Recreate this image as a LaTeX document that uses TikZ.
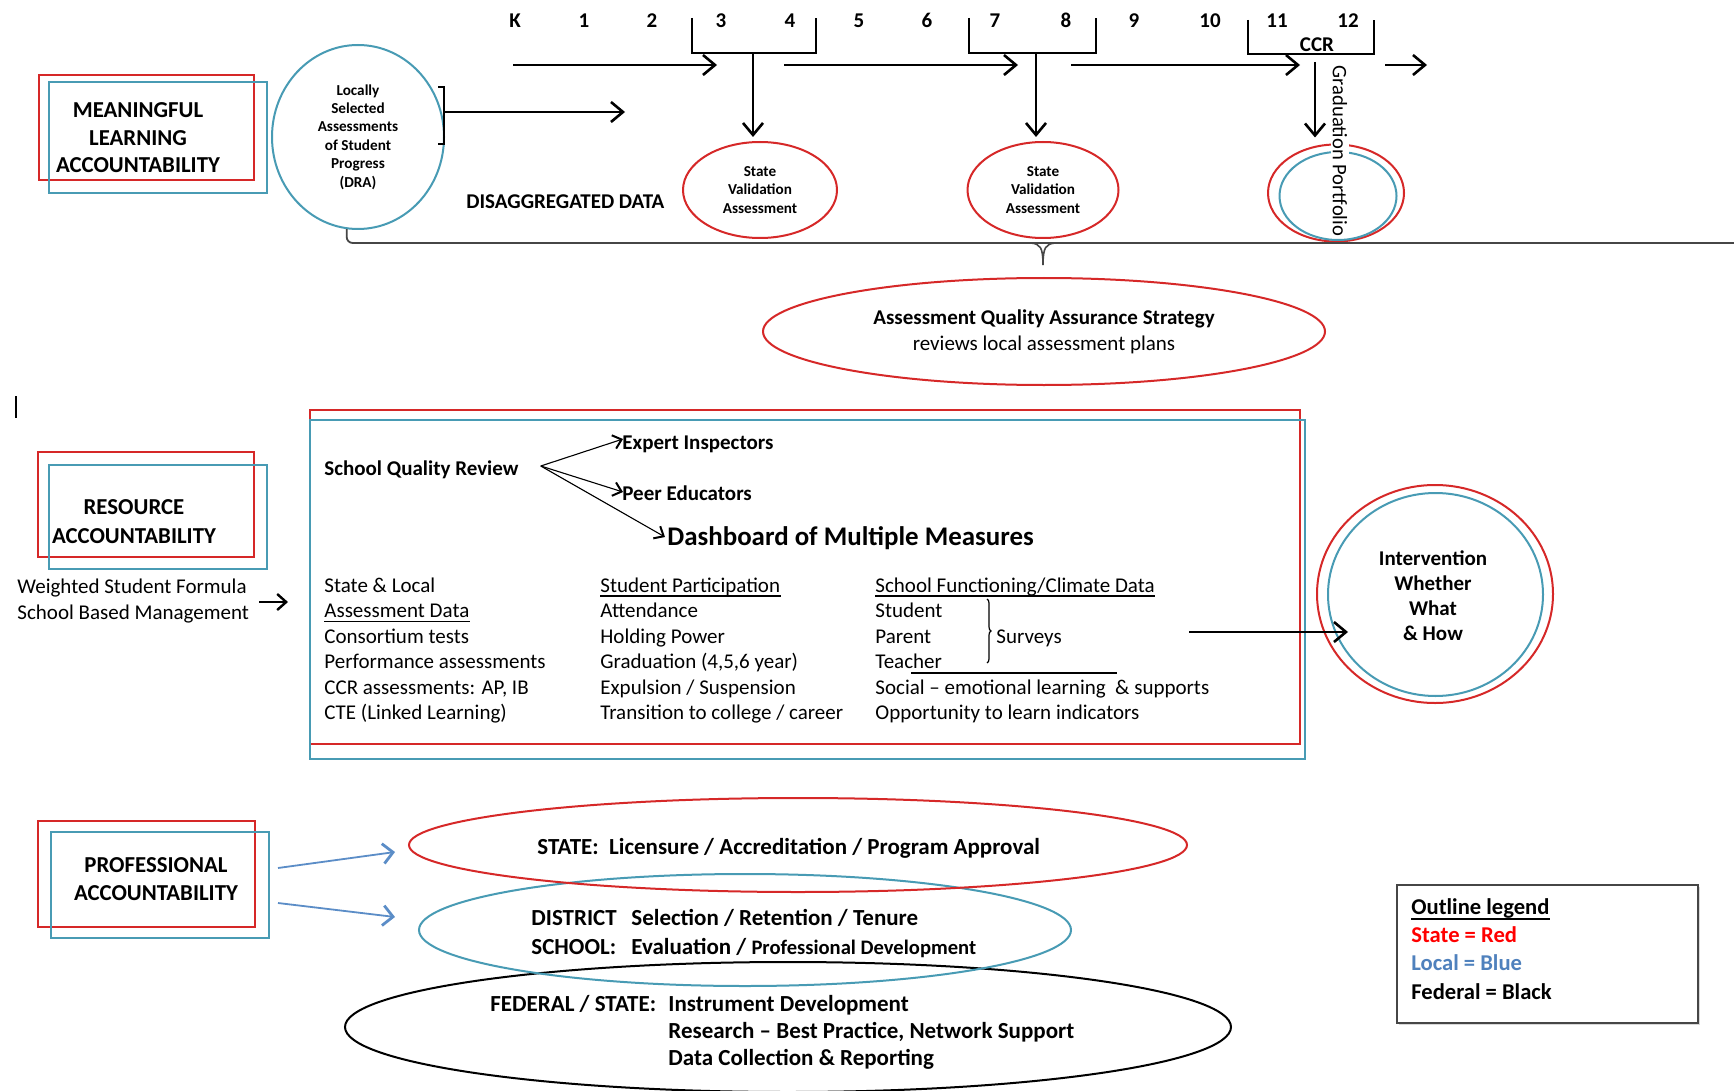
\documentclass[tikz,border=0pt]{standalone}
\usepackage{fontspec}
\setmainfont{Carlito}
\usetikzlibrary{arrows.meta,shapes.geometric,calc,decorations.pathreplacing,shadows}
\definecolor{ored}{RGB}{214,40,40}
\definecolor{oblue}{RGB}{72,155,180}
\definecolor{lred}{RGB}{255,0,0}
\definecolor{lblue}{RGB}{79,129,189}
\definecolor{ablue}{RGB}{91,141,199}
\definecolor{dgray}{RGB}{70,70,70}
\begin{document}
\begin{tikzpicture}[x=0.5pt,y=-0.5pt,
  redbox/.style={draw=ored,line width=1pt,inner sep=0pt},
  bluebox/.style={draw=oblue,line width=1pt,inner sep=0pt},
  redell/.style={ellipse,draw=ored,line width=1pt,inner sep=0pt},
  blueell/.style={ellipse,draw=oblue,line width=1pt,inner sep=0pt},
  blkell/.style={ellipse,draw=black,line width=1pt,inner sep=0pt},
  arr/.style={line width=0.8pt,-{Straight Barb[length=6pt,width=10pt,line width=1.3pt]}},
  sarr/.style={line width=0.8pt,-{Straight Barb[length=4.5pt,width=8pt,line width=1.2pt]}},
  thinarr/.style={line width=0.55pt,-{Straight Barb[length=4pt,width=7pt,line width=1pt]}},
  bluearr/.style={draw=ablue,line width=0.9pt,-{Straight Barb[length=5pt,width=10pt,line width=1.4pt]}},
  thinline/.style={line width=0.6pt},
  uline/.style={line width=0.65pt},
  grade/.style={font=\fontsize{10.5}{12}\selectfont\bfseries,anchor=base,inner sep=0pt},
  body/.style={font=\fontsize{10.5}{12}\selectfont,anchor=base west,inner sep=0pt},
  bodyb/.style={font=\fontsize{10.5}{12}\selectfont\bfseries,anchor=base west,inner sep=0pt},
  bigt/.style={align=center,inner sep=0pt},
  smallt/.style={font=\fontsize{7.6}{9.2}\selectfont\bfseries,align=center},
  prof/.style={font=\fontsize{11.5}{13}\selectfont\bfseries,anchor=base west,inner sep=0pt},
  legt/.style={font=\fontsize{11.3}{13}\selectfont\bfseries,anchor=base west,inner sep=0pt},
]
\useasboundingbox[fill=white] (0,0) rectangle (1734,1091);

% ---------------- MEANINGFUL LEARNING ----------------
\node[redbox,minimum width=107.5pt,minimum height=52.5pt] (mlr) at (146.5,127.5) {};
\node[bluebox,minimum width=109pt,minimum height=55.5pt] (mlb) at (158,137.5) {};
\node[bigt,font=\fontsize{11.4}{13.75}\selectfont\bfseries] (mlt) at (138,138) {MEANINGFUL\\LEARNING\\ACCOUNTABILITY};

\node[blueell,minimum width=86pt,minimum height=92pt,smallt] (dra) at (358,137) {Locally\\Selected\\Assessments\\of Student\\Progress\\(DRA)};
\draw[thinline] (438,87) -- (444,87) -- (444,144) -- (438,144);
\coordinate (lsa) at (444,112);
\coordinate (lsb) at (625,112);
\draw[arr] (lsa) -- (lsb);

\node[bodyb] (dis) at (466,209) {DISAGGREGATED DATA};

% grades
\node[grade] (gK) at (515,28) {K};
\node[grade] (g1) at (584,28) {1};
\node[grade] (g2) at (652,28) {2};
\node[grade] (g3) at (721,28) {3};
\node[grade] (g4) at (790,28) {4};
\node[grade] (g5) at (859,28) {5};
\node[grade] (g6) at (927,28) {6};
\node[grade] (g7) at (995,28) {7};
\node[grade] (g8) at (1066,28) {8};
\node[grade] (g9) at (1134,28) {9};
\node[grade] (g10) at (1210,28) {10};
\node[grade] (g11) at (1277,28) {11};
\node[grade] (g12) at (1348,28) {12};
\node[grade] (ccr) at (1317,52) {CCR};

\draw[thinline] (692,18) -- (692,53) -- (816,53) -- (816,18);
\draw[thinline] (969,18) -- (969,53) -- (1096,53) -- (1096,18);
\draw[thinline] (1248,20) -- (1248,54) -- (1374,54) -- (1374,20);

\coordinate (t1a) at (513,65); \coordinate (t1b) at (717,65);
\coordinate (t2a) at (784,65); \coordinate (t2b) at (1018,65);
\coordinate (t3a) at (1071,65); \coordinate (t3b) at (1300,65);
\coordinate (t4a) at (1385,65); \coordinate (t4b) at (1427,65);
\draw[arr] (t1a) -- (t1b);
\draw[arr] (t2a) -- (t2b);
\draw[arr] (t3a) -- (t3b);
\draw[arr] (t4a) -- (t4b);

\node[redell,minimum width=77pt,minimum height=48pt,smallt] (sva1) at (760,190) {State\\Validation\\Assessment};
\node[redell,minimum width=75.5pt,minimum height=48pt,smallt] (sva2) at (1043,190) {State\\Validation\\Assessment};

\node[redell,minimum width=68pt,minimum height=48.5pt] (gpr) at (1336,193) {};
\node[blueell,minimum width=58.5pt,minimum height=44pt] (gpb) at (1338,196) {};
\node[font=\fontsize{10.3}{12}\selectfont,rotate=-90,fill=white,inner sep=1pt] (gpt) at (1340,151) {Graduation Portfolio};

\coordinate (b1) at (753,53);
\coordinate (b2) at (1036,53);
\coordinate (b3) at (1315,62);
\draw[arr,shorten >=2pt] (b1) -- (b1 |- sva1.north);
\draw[arr,shorten >=2pt] (b2) -- (b2 |- sva2.north);
\draw[arr,shorten >=3pt] (b3) -- (b3 |- gpr.north);

\coordinate (lineR) at (1734,243);
\draw[dgray,line width=0.9pt,rounded corners=3pt] (dra.263) -- (dra.263 |- lineR) -- (lineR);
\draw[dgray,line width=0.8pt] (1031,243) .. controls (1040,244) and (1043,247) .. (1043,265);
\draw[dgray,line width=0.8pt] (1055,243) .. controls (1046,244) and (1043,247) .. (1043,265);

\node[redell,minimum width=281pt,minimum height=53.5pt,font=\fontsize{10.5}{13}\selectfont,align=center] (aqa) at (1044,331.5) {\textbf{Assessment Quality Assurance Strategy}\\reviews local assessment plans};

\draw[thinline] (16,396) -- (16,418);

% ---------------- RESOURCE ----------------
\node[redbox,minimum width=108pt,minimum height=52.5pt] (rar) at (146,504.5) {};
\node[bluebox,minimum width=109pt,minimum height=52pt] (rab) at (158,517) {};
\node[bigt,font=\fontsize{11.4}{14.5}\selectfont\bfseries] (rat) at (134,522) {RESOURCE\\ACCOUNTABILITY};

\node[body] (wsf) at (17,593) {Weighted Student Formula};
\node[body] (sbm) at (17,619) {School Based Management};
\coordinate (wa) at (259,602); \coordinate (wb) at (288,602);
\draw[sarr] (wa) -- (wb);

\node[redbox,minimum width=495pt,minimum height=167pt] (dbr) at (805,577) {};
\node[bluebox,minimum width=497.5pt,minimum height=169.5pt] (dbb) at (807.5,589.5) {};

\node[bodyb] (sqr) at (324,475) {School Quality Review};
\node[bodyb] (ei) at (622,449) {Expert Inspectors};
\node[bodyb] (pe) at (622,500) {Peer Educators};
\node[bodyb,font=\fontsize{13.45}{15}\selectfont\bfseries] (dash) at (667,545) {Dashboard of Multiple Measures};
\coordinate (sqo) at ($(sqr.base east)+(22,-9)$);
\draw[thinarr] (sqo) -- ($(ei.base west)+(1,-10)$);
\draw[thinarr] (sqo) -- ($(pe.base west)+(1,-8)$);
\draw[thinarr] (sqo) -- ($(dash.base west)+(-2,-8)$);

% column 1
\node[body] (c1a) at (324,592) {State \& Local};
\node[body] (c1b) at (324,617.5) {Assessment Data};
\node[body] (c1c) at (324,643) {Consortium tests};
\node[body] (c1d) at (324,668.5) {Performance assessments};
\node[body] (c1e) at (324,694) {CCR assessments: AP, IB};
\node[body] (c1f) at (324,719.5) {CTE (Linked Learning)};
\draw[uline] ($(c1b.base west)+(0,4)$) -- ($(c1b.base east)+(0,4)$);
% column 2
\node[body] (c2a) at (600,592) {Student Participation};
\node[body] (c2b) at (600,617.5) {Attendance};
\node[body] (c2c) at (600,643) {Holding Power};
\node[body] (c2d) at (600,668.5) {Graduation (4,5,6 year)};
\node[body] (c2e) at (600,694) {Expulsion / Suspension};
\node[body] (c2f) at (600,719.5) {Transition to college / career};
\draw[uline] ($(c2a.base west)+(0,4)$) -- ($(c2a.base east)+(0,4)$);
% column 3
\node[body] (c3a) at (875,592) {School Functioning/Climate Data};
\node[body] (c3b) at (875,617.5) {Student};
\node[body] (c3c) at (875,643) {Parent};
\node[body] (c3d) at (875,668.5) {Teacher};
\node[body] (c3e) at (875,694) {Social – emotional learning~ \& supports};
\node[body] (c3f) at (875,719.5) {Opportunity to learn indicators};
\draw[uline] ($(c3a.base west)+(0,4)$) -- ($(c3a.base east)+(0,4)$);
\node[body] (srv) at (996,643) {Surveys};
\draw[thinline,decorate,decoration={brace,amplitude=2pt}] (987,599) -- (987,663);
\draw[thinline] (911,673) -- (1117,673);

% intervention
\node[redell,minimum width=118pt,minimum height=109pt] (ivr) at (1435,594) {};
\node[blueell,minimum width=107.5pt,minimum height=101.5pt] (ivb) at (1435.5,594.5) {};
\node[font=\fontsize{10.5}{12.5}\selectfont\bfseries,align=center,inner sep=0pt] (ivt) at (1433,596) {Intervention\\Whether\\What\\\& How};
\coordinate (ia) at (1189,632); \coordinate (ib) at (1348,632);
\draw[arr] (ia) -- (ib);

% ---------------- PROFESSIONAL ----------------
\node[redbox,minimum width=108.5pt,minimum height=53pt] (par) at (146.5,874) {};
\node[bluebox,minimum width=109pt,minimum height=53pt] (pab) at (160,885) {};
\node[bigt,font=\fontsize{11.4}{14}\selectfont\bfseries] (pat) at (156,879) {PROFESSIONAL\\ACCOUNTABILITY};

\coordinate (pa1) at (278,868); \coordinate (pb1) at (395,852);
\coordinate (pa2) at (278,903); \coordinate (pb2) at (395,917);
\draw[bluearr] (pa1) -- (pb1);
\draw[bluearr] (pa2) -- (pb2);

\node[blkell,minimum width=443pt,minimum height=65pt] (fde) at (788,1027) {};
\node[blueell,minimum width=326pt,minimum height=56pt] (dse) at (745,930) {};
\node[redell,minimum width=389pt,minimum height=47pt] (ste) at (798,845) {};

\node[prof] (stt) at (537,854) {STATE:\ \ Licensure / Accreditation / Program Approval};
\node[prof] (dt1) at (531,925.5) {DISTRICT};
\node[prof] (dt2) at (631,925.5) {Selection / Retention / Tenure};
\node[prof] (sc1) at (531,954.5) {SCHOOL:};
\node[prof] (sc2) at (631,954.5) {Evaluation / {\fontsize{10.3}{12}\selectfont Professional Development}};
\node[prof] (fd1) at (490,1011) {FEDERAL / STATE:};
\node[prof] (fd2) at (668,1011) {Instrument Development};
\node[prof] (fd3) at (668,1038) {Research – Best Practice, Network Support};
\node[prof] (fd4) at (668,1065) {Data Collection \& Reporting};

% legend
\node[draw=dgray,line width=0.9pt,fill=white,minimum width=150.5pt,minimum height=69pt,inner sep=0pt,drop shadow={opacity=0.3,shadow xshift=1.2pt,shadow yshift=-1.2pt}] (leg) at (1547.5,954) {};
\node[legt] (l1) at (1411,914) {Outline legend};
\draw[uline] ($(l1.base west)+(0,5)$) -- ($(l1.base east)+(0,5)$);
\node[legt,text=lred] (l2) at (1411,942) {State = Red};
\node[legt,text=lblue] (l3) at (1411,970) {Local = Blue};
\node[legt] (l4) at (1411,999) {Federal = Black};
\end{tikzpicture}
\end{document}
